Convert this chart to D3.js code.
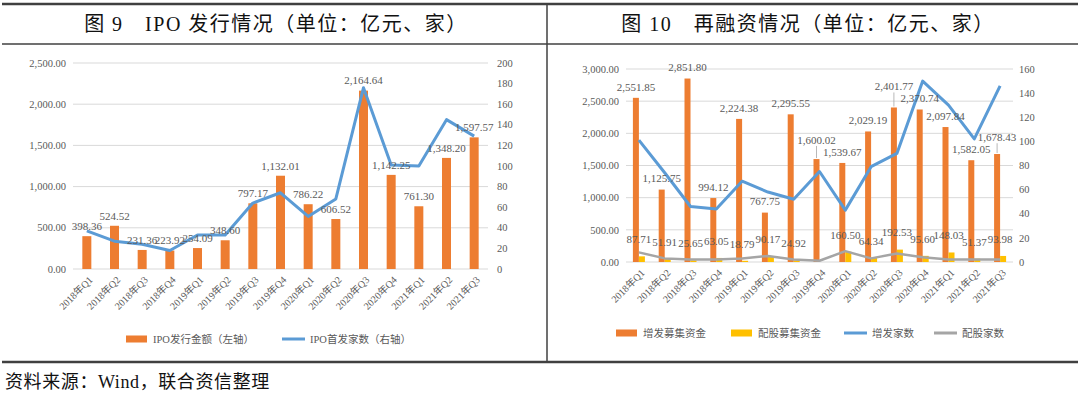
<!DOCTYPE html>
<html>
<head>
<meta charset="utf-8">
<script src="https://cdn.jsdelivr.net/npm/d3@7"></script>
<style>
  body { margin: 0; background: #fff; }
  svg text { font-family: "Liberation Serif", "Noto Sans CJK SC", serif; }
</style>
</head>
<body>
<div id="chart"></div>
<script>
// quarters shared by both panels
const quarters = ['2018年Q1','2018年Q2','2018年Q3','2018年Q4','2019年Q1','2019年Q2','2019年Q3','2019年Q4',
                  '2020年Q1','2020年Q2','2020年Q3','2020年Q4','2021年Q1','2021年Q2','2021年Q3'];

// fig 9 - IPO
const ipoAmount = [398.36, 524.52, 231.36, 223.92, 254.09, 348.60, 797.17, 1132.01, 786.22, 606.52, 2164.64, 1142.25, 761.30, 1348.20, 1597.57];
const ipoCount = [37, 27, 24, 18, 33, 33, 64, 74, 51, 68, 176, 101, 100, 145, 129];
const ipoLeftTicks = [0, 500, 1000, 1500, 2000, 2500];
const ipoRightTicks = [0, 20, 40, 60, 80, 100, 120, 140, 160, 180, 200];

// fig 10 - refinancing
const seoAmount = [2551.85, 1125.75, 2851.80, 994.12, 2224.38, 767.75, 2295.55, 1600.02, 1539.67, 2029.19, 2401.77, 2370.74, 2097.84, 1582.05, 1678.43];
const rightsAmount = [87.71, 51.91, 25.65, 63.05, 18.79, 90.17, 24.92, 0, 160.50, 64.34, 192.53, 95.60, 148.03, 51.37, 93.98];
const seoCount = [101, 74, 46, 44, 67, 58, 52, 75, 43, 79, 90, 150, 130, 102, 146];
const rightsCount = [8, 3, 2, 2, 3, 5, 2, 1, 9, 3, 7, 4, 2, 2, 2];
const refiLeftTicks = [0, 500, 1000, 1500, 2000, 2500, 3000];
const refiRightTicks = [0, 20, 40, 60, 80, 100, 120, 140, 160];

const C = { orange: '#ED7D31', yellow: '#FFC000', blue: '#5B9BD5', gray: '#A5A5A5', grid: '#D9D9D9', text: '#595959', rule: '#404040' };
const fmt = d3.format(',.2f');

const svg = d3.select('#chart').append('svg')
    .attr('width', 1080)
    .attr('height', 396);

// table frame
svg.append('line').attr('x1', 2).attr('x2', 1078).attr('y1', 4).attr('y2', 4).attr('stroke', C.rule).attr('stroke-width', 2.5);
svg.append('line').attr('x1', 2).attr('x2', 1078).attr('y1', 44).attr('y2', 44).attr('stroke', C.rule).attr('stroke-width', 1.5);
svg.append('line').attr('x1', 2).attr('x2', 1078).attr('y1', 362).attr('y2', 362).attr('stroke', C.rule).attr('stroke-width', 2.5);
svg.append('line').attr('x1', 547).attr('x2', 547).attr('y1', 4).attr('y2', 362).attr('stroke', C.rule).attr('stroke-width', 1.5);

svg.append('text').attr('x', 276).attr('y', 31).attr('text-anchor', 'middle')
    .attr('font-size', 20).attr('letter-spacing', 1.5).attr('fill', '#111')
    .text('图 9　IPO 发行情况（单位：亿元、家）');
svg.append('text').attr('x', 808).attr('y', 31).attr('text-anchor', 'middle')
    .attr('font-size', 20).attr('letter-spacing', 1.5).attr('fill', '#111')
    .text('图 10　再融资情况（单位：亿元、家）');

svg.append('text').attr('x', 5).attr('y', 388)
    .attr('font-size', 18).attr('letter-spacing', 0.6).attr('fill', '#111')
    .text('资料来源：Wind，联合资信整理');

function drawAxes(g, x, yL, yR, leftTicks, rightTicks, leftX, rightX) {
    const [x0, x1] = x.range();
    g.selectAll('.grid').data(leftTicks).enter().append('line')
        .attr('x1', x0).attr('x2', x1)
        .attr('y1', d => yL(d)).attr('y2', d => yL(d))
        .attr('stroke', C.grid).attr('stroke-width', 1);

    g.selectAll('.ltick').data(leftTicks).enter().append('text')
        .attr('x', leftX).attr('y', d => yL(d)).attr('dy', '0.35em')
        .attr('text-anchor', 'end').attr('font-size', 10.5).attr('fill', C.text)
        .text(d => fmt(d));

    g.selectAll('.rtick').data(rightTicks).enter().append('text')
        .attr('x', rightX).attr('y', d => yR(d)).attr('dy', '0.35em')
        .attr('text-anchor', 'start').attr('font-size', 10.5).attr('fill', C.text)
        .text(d => d);

    const y0 = yL(0);
    g.selectAll('.xlab').data(quarters).enter().append('text')
        .attr('transform', d => `translate(${x(d) + x.bandwidth() / 2 + 4},${y0 + 9}) rotate(-45)`)
        .attr('text-anchor', 'end').attr('dy', '0.35em')
        .attr('font-size', 10).attr('fill', C.text)
        .text(d => d);
}

function drawLegend(g, items, y) {
    items.forEach(it => {
        if (it.type === 'bar') {
            g.append('rect').attr('x', it.x).attr('y', y - 3.5).attr('width', 21).attr('height', 7).attr('fill', it.color);
        } else {
            g.append('line').attr('x1', it.x).attr('x2', it.x + 23).attr('y1', y).attr('y2', y)
                .attr('stroke', it.color).attr('stroke-width', 3);
        }
        g.append('text').attr('x', it.x + (it.type === 'bar' ? 27 : 28)).attr('y', y).attr('dy', '0.35em')
            .attr('font-size', 10.5).attr('fill', C.text).text(it.label);
    });
}

// nudge overlapping neighbour labels upward (higher one moves), returns label objects
function placeLabels(items, halfW, h) {
    for (let i = 1; i < items.length; i++) {
        const a = items[i - 1], b = items[i];
        if (Math.abs(a.x - b.x) < 2 * halfW && Math.abs(a.y - b.y) < h) {
            const top = a.y <= b.y ? a : b;
            const other = top === a ? b : a;
            top.y = other.y - h;
            top.moved = true;
        }
    }
    return items;
}

// ---- Figure 9: IPO ----
function drawIpo() {
    const g = svg.append('g');
    const x = d3.scaleBand().domain(quarters).range([73, 488]);
    const yL = d3.scaleLinear().domain([0, 2500]).range([269, 63]);
    const yR = d3.scaleLinear().domain([0, 200]).range([269, 63]);
    const cx = d => x(d) + x.bandwidth() / 2;

    drawAxes(g, x, yL, yR, ipoLeftTicks, ipoRightTicks, 66, 497);

    const bw = 9;
    g.selectAll('.bar').data(quarters).enter().append('rect')
        .attr('x', d => cx(d) - bw / 2)
        .attr('y', (d, i) => yL(ipoAmount[i]))
        .attr('width', bw)
        .attr('height', (d, i) => yL(0) - yL(ipoAmount[i]))
        .attr('fill', C.orange);

    const line = d3.line().x(d => cx(d[0])).y(d => yR(d[1]));
    g.append('path')
        .datum(quarters.map((q, i) => [q, ipoCount[i]]))
        .attr('d', line)
        .attr('fill', 'none').attr('stroke', C.blue).attr('stroke-width', 3)
        .attr('stroke-linejoin', 'round');

    g.selectAll('.blab').data(quarters).enter().append('text')
        .attr('x', d => cx(d))
        .attr('y', (d, i) => yL(ipoAmount[i]) - 10)
        .attr('dy', '0.35em')
        .attr('text-anchor', 'middle').attr('font-size', 11).attr('fill', C.text)
        .text((d, i) => fmt(ipoAmount[i]));

    drawLegend(g, [
        { type: 'bar', color: C.orange, x: 126, label: 'IPO发行金额（左轴）' },
        { type: 'line', color: C.blue, x: 282, label: 'IPO首发家数（右轴）' }
    ], 339);
}

// ---- Figure 10: refinancing ----
function drawRefi() {
    const g = svg.append('g');
    const x = d3.scaleBand().domain(quarters).range([626, 1013]);
    const yL = d3.scaleLinear().domain([0, 3000]).range([262, 69]);
    const yR = d3.scaleLinear().domain([0, 160]).range([262, 69]);
    const cx = d => x(d) + x.bandwidth() / 2;

    drawAxes(g, x, yL, yR, refiLeftTicks, refiRightTicks, 619, 1019);

    const bw = 6;
    g.selectAll('.seo').data(quarters).enter().append('rect')
        .attr('x', d => cx(d) - bw)
        .attr('y', (d, i) => yL(seoAmount[i]))
        .attr('width', bw)
        .attr('height', (d, i) => yL(0) - yL(seoAmount[i]))
        .attr('fill', C.orange);

    g.selectAll('.rights').data(quarters).enter().append('rect')
        .attr('x', d => cx(d))
        .attr('y', (d, i) => yL(rightsAmount[i]))
        .attr('width', bw)
        .attr('height', (d, i) => yL(0) - yL(rightsAmount[i]))
        .attr('fill', C.yellow);

    const line = d3.line().x(d => cx(d[0])).y(d => yR(d[1]));
    g.append('path')
        .datum(quarters.map((q, i) => [q, seoCount[i]]))
        .attr('d', line)
        .attr('fill', 'none').attr('stroke', C.blue).attr('stroke-width', 3)
        .attr('stroke-linejoin', 'round');
    g.append('path')
        .datum(quarters.map((q, i) => [q, rightsCount[i]]))
        .attr('d', line)
        .attr('fill', 'none').attr('stroke', C.gray).attr('stroke-width', 2.5)
        .attr('stroke-linejoin', 'round');

    const seoLabels = placeLabels(quarters.map((q, i) => ({
        x: cx(q) - 3, bx: cx(q) - 3, base: yL(seoAmount[i]), y: yL(seoAmount[i]) - 11, text: fmt(seoAmount[i])
    })), 20, 12);

    // leader lines for labels that had to move
    g.selectAll('.lead').data(seoLabels.filter(d => d.moved)).enter().append('line')
        .attr('x1', d => d.x).attr('x2', d => d.bx)
        .attr('y1', d => d.y + 6).attr('y2', d => d.base - 1)
        .attr('stroke', '#A6A6A6').attr('stroke-width', 0.8);

    g.selectAll('.slab').data(seoLabels).enter().append('text')
        .attr('x', d => d.x)
        .attr('y', d => d.y)
        .attr('dy', '0.35em')
        .attr('text-anchor', 'middle').attr('font-size', 11).attr('fill', C.text)
        .text(d => d.text);

    // rights issue labels sit a bit higher, skipping empty quarters
    g.selectAll('.rlab').data(quarters.filter((q, i) => rightsAmount[i] > 0)).enter().append('text')
        .attr('x', d => cx(d))
        .attr('y', d => yL(rightsAmount[quarters.indexOf(d)]) - 17)
        .attr('dy', '0.35em')
        .attr('text-anchor', 'middle').attr('font-size', 11).attr('fill', C.text)
        .text(d => fmt(rightsAmount[quarters.indexOf(d)]));

    drawLegend(g, [
        { type: 'bar', color: C.orange, x: 616, label: '增发募集资金' },
        { type: 'bar', color: C.yellow, x: 731, label: '配股募集资金' },
        { type: 'line', color: C.blue, x: 844, label: '增发家数' },
        { type: 'line', color: C.gray, x: 934, label: '配股家数' }
    ], 333);
}

drawIpo();
drawRefi();
</script>
</body>
</html>
